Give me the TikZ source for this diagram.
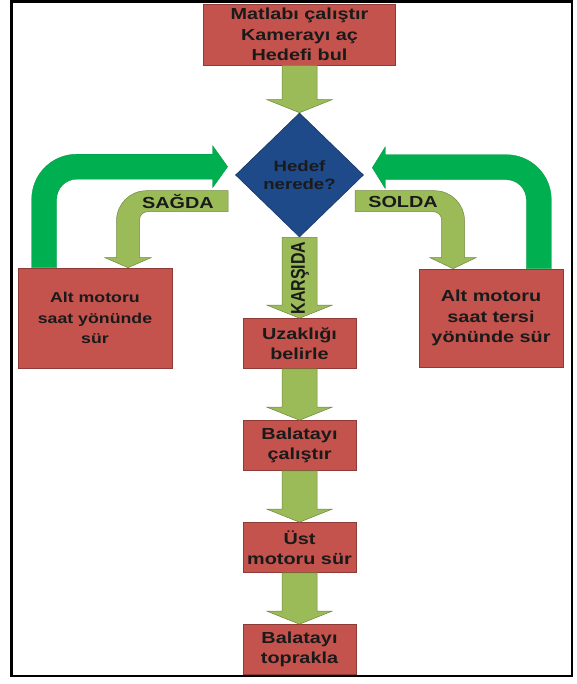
\documentclass[tikz,border=0pt]{standalone}
\usepackage{fontspec}
\usepackage{tikz}
\usetikzlibrary{shapes.geometric,calc}
\newfontfamily\widefont{Liberation Sans}[FakeStretch=1.24]
\newfontfamily\plainfont{Liberation Sans}
\definecolor{boxred}{HTML}{C3534C}
\definecolor{boxedge}{HTML}{8E3A36}
\definecolor{olive}{HTML}{9BBB59}
\definecolor{oliveedge}{HTML}{71893F}
\definecolor{brightgreen}{HTML}{00B050}
\definecolor{qblue}{HTML}{1F4A8A}
\definecolor{qedge}{HTML}{17365F}
\definecolor{ink}{HTML}{1A1A1A}
\newcommand{\blockdown}[2]{%
  \path[olivearrow] ($(#1.south)+(-17.5,0)$) -- ($(#2.north)+(-17.5,13)$) -- ($(#2.north)+(-32.5,13)$) -- (#2.north)
    -- ($(#2.north)+(32.5,13)$) -- ($(#2.north)+(17.5,13)$) -- ($(#1.south)+(17.5,0)$) -- cycle;}

\begin{document}
\begin{tikzpicture}[x=1pt,y=1pt,node distance=102pt,
  box/.style={rectangle,draw=boxedge,fill=boxred,line width=0.6pt,text=ink,align=center,inner sep=0pt,
    minimum width=113pt,minimum height=50pt,font=\widefont\bfseries\fontsize{16}{20.5}\selectfont},
  decision/.style={diamond,draw=qedge,fill=qblue,line width=0.6pt,text=ink,align=center,inner sep=0pt,
    minimum width=128pt,minimum height=124pt,font=\widefont\bfseries\fontsize{15}{18}\selectfont},
  lbl/.style={text=ink,inner sep=0pt,font=\widefont\bfseries\fontsize{16}{18}\selectfont},
  olivearrow/.style={fill=olive,draw=oliveedge,line width=0.5pt},
  greenarrow/.style={fill=brightgreen,draw=brightgreen!85!black,line width=0.3pt}]
  \useasboundingbox (0,0) rectangle (576,-684);
  \draw[line width=2.5pt] (11.5,-1.5) rectangle (572,-676);

  \node[box,minimum width=192pt,minimum height=61pt] (start) at (299.5,-34.5) {Matlabı çalıştır\\Kamerayı aç\\Hedefi bul};
  \node[decision] (where) [below of=start,node distance=140.5pt] {Hedef\\nerede?};
  \node[box] (dist) [below of=where,node distance=168.5pt] {Uzaklığı\\belirle};
  \node[box] (brake) [below of=dist] {Balatayı\\çalıştır};
  \node[box] (upper) [below of=brake] {Üst\\motoru sür};
  \node[box] (ground) [below of=upper] {Balatayı\\toprakla};
  \node[box,minimum width=154pt,minimum height=100pt,font=\widefont\bfseries\fontsize{14.3}{20.5}\selectfont] (cw) at (95,-318) {Alt motoru\\saat yönünde\\sür};
  \node[box,minimum width=144pt,minimum height=98pt] (ccw) at (491,-318) {Alt motoru\\saat tersi\\yönünde sür};

  \blockdown{start}{where}
  \blockdown{where}{dist}
  \blockdown{dist}{brake}
  \blockdown{brake}{upper}
  \blockdown{upper}{ground}

  \coordinate (sagtip) at ([xshift=33pt]cw.north);
  \path[olivearrow] (sagtip) -- ++(-23,10) -- ++(11.5,0) -- ++(0,37) arc[start angle=180,end angle=90,radius=30]
    -- ++(81.5,0) -- ++(0,-21) -- ++(-80.5,0) arc[start angle=90,end angle=180,radius=8] -- ++(0,-38) -- ++(11.5,0) -- cycle;
  \coordinate (soltip) at ([xshift=-38pt]ccw.north);
  \path[olivearrow] (soltip) -- ++(23,11) -- ++(-11.5,0) -- ++(0,37) arc[start angle=0,end angle=90,radius=30]
    -- ++(-79.5,0) -- ++(0,-21) -- ++(78.5,0) arc[start angle=90,end angle=0,radius=8] -- ++(0,-38) -- ++(-11.5,0) -- cycle;

  \coordinate (cwout) at ([xshift=14pt]cw.north west);
  \path[greenarrow] (cwout) -- ++(0,68.5) arc[start angle=180,end angle=90,radius=45] -- ++(136,0) -- ++(0,8.5)
    -- ++(15,-21) -- ++(-15,-21) -- ++(0,8.5) -- ++(-136,0) arc[start angle=90,end angle=180,radius=20] -- ++(0,-68.5) -- cycle;
  \coordinate (ccwout) at ([xshift=-12pt]ccw.north east);
  \path[greenarrow] (ccwout) -- ++(0,69) arc[start angle=0,end angle=90,radius=45] -- ++(-121,0) -- ++(0,8)
    -- ++(-13,-21) -- ++(13,-21) -- ++(0,9) -- ++(121,0) arc[start angle=90,end angle=0,radius=20] -- ++(0,-69) -- cycle;

  \node[lbl] (sag) at (178,-201.5) {SAĞDA};
  \node[lbl] (sol) at (403,-201.5) {SOLDA};
  \node[lbl,rotate=90] (front) at (300,-278) {\scalebox{1}[1.24]{\plainfont\bfseries\fontsize{16}{18}\selectfont KARŞIDA}};
\end{tikzpicture}
\end{document}
